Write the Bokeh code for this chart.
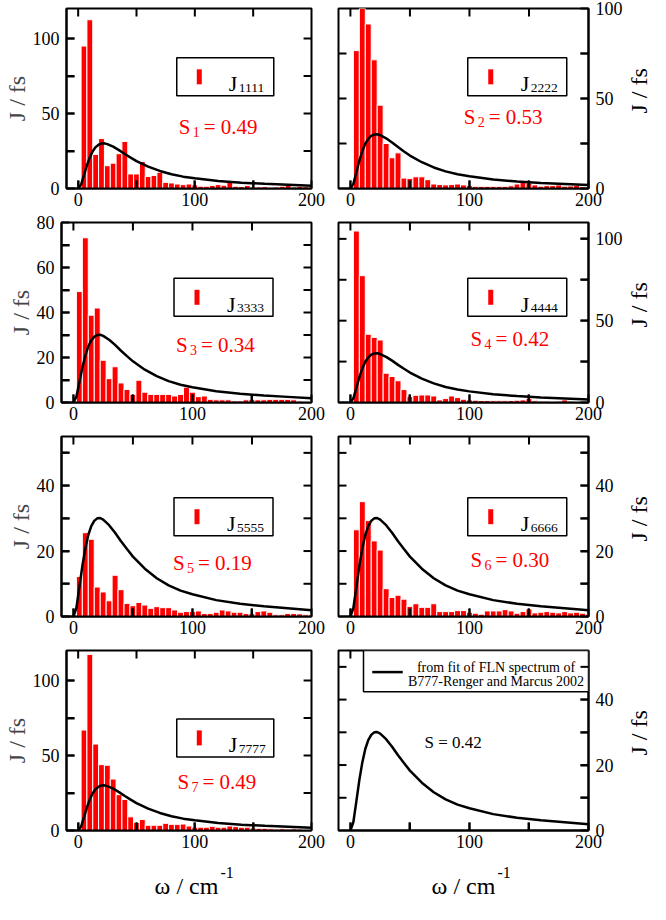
import math
from bokeh.plotting import figure
from bokeh.layouts import column, row
from bokeh.models import Range1d, FixedTicker, BoxAnnotation, Label
from bokeh.embed import file_html
from bokeh.resources import INLINE

# ---------------- data ----------------
omega_bins = [5, 10, 15, 20, 25, 30, 35, 40, 45, 50,
              55, 60, 65, 70, 75, 80, 85, 90, 95, 100,
              105, 110, 115, 120, 125, 130, 135, 140, 145, 150,
              155, 160, 165, 170, 175, 180, 185, 190, 195, 200]

J1111 = [95.0, 112.5, 22.7, 33.3, 15.2, 16.9, 23.2, 31.4, 9.7, 9.7,
         18.0, 8.0, 8.7, 10.8, 4.1, 3.7, 3.0, 2.6, 3.0, 2.4,
         1.5, 1.5, 2.0, 2.6, 2.2, 4.5, 1.5, 1.3, 2.0, 1.0,
         1.0, 1.2, 0.8, 1.0, 1.5, 2.0, 1.0, 1.5, 1.2, 1.0]
J2222 = [76.6, 101.0, 91.4, 71.5, 46.3, 25.0, 17.1, 19.8, 5.8, 5.6,
         6.5, 6.5, 4.9, 2.5, 2.2, 2.0, 2.2, 2.5, 2.0, 1.6,
         1.2, 1.2, 1.2, 1.2, 1.2, 1.2, 1.5, 2.5, 3.4, 3.1,
         2.0, 1.3, 1.6, 1.6, 2.0, 1.3, 1.4, 1.8, 0.9, 0.9]
J3333 = [49.3, 73.2, 38.8, 42.0, 18.8, 10.6, 15.9, 8.7, 5.8, 3.6,
         9.9, 4.6, 3.6, 3.6, 3.6, 3.6, 2.9, 3.6, 6.8, 4.6,
         2.6, 2.9, 1.4, 1.2, 1.2, 1.2, 0.7, 0.7, 1.2, 1.4,
         1.2, 1.2, 1.4, 1.4, 1.4, 1.4, 1.2, 0.6, 0.4, 0.4]
J4444 = [104.8, 77.5, 41.7, 39.8, 38.2, 17.9, 15.9, 13.3, 7.9, 3.6,
         4.4, 4.6, 4.6, 4.0, 1.6, 2.4, 4.0, 3.0, 2.0, 1.6,
         1.4, 1.2, 1.2, 1.0, 1.0, 1.0, 1.2, 1.4, 1.6, 2.4,
         1.0, 0.8, 0.8, 0.6, 0.8, 1.6, 0.8, 0.6, 0.5, 0.5]
J5555 = [12.2, 25.6, 23.6, 9.0, 7.5, 4.8, 12.6, 8.2, 4.0, 3.3,
         4.3, 3.5, 2.5, 3.0, 2.7, 2.7, 2.0, 1.3, 1.5, 1.5,
         1.7, 0.9, 0.9, 1.3, 2.0, 1.7, 1.3, 1.3, 0.9, 0.9,
         1.5, 1.7, 1.3, 0.5, 0.5, 0.9, 0.9, 0.8, 0.5, 0.5]
J6666 = [26.5, 35.1, 29.3, 23.1, 20.3, 8.5, 5.8, 6.5, 5.3, 3.1,
         3.9, 2.8, 2.8, 3.9, 1.5, 1.5, 1.5, 1.8, 1.8, 1.3,
         1.0, 0.7, 1.7, 1.7, 1.7, 2.1, 1.7, 1.0, 1.5, 2.3,
         1.1, 1.3, 1.5, 1.3, 1.1, 1.5, 1.1, 1.3, 1.0, 0.7]
J7777 = [67.0, 117.4, 57.6, 43.9, 43.5, 34.3, 23.9, 20.7, 9.1, 5.4,
         7.4, 3.5, 3.5, 3.5, 4.8, 4.1, 4.1, 4.3, 3.0, 2.2,
         2.2, 2.2, 2.8, 2.2, 2.2, 3.0, 2.6, 2.2, 2.2, 1.7,
         1.5, 1.5, 1.1, 0.9, 1.1, 0.9, 1.1, 0.9, 0.7, 0.7]

# fitted spectral density (Renger & Marcus 2002)
fit_omega = [0, 2.5, 5, 7.5, 10, 12.5, 15, 17.5, 20, 22.5, 25, 30, 35, 40, 45,
             50, 60, 70, 80, 90, 100, 120, 140, 160, 180, 200]
fit_J = [0.0, 2.6, 8.9, 15.4, 20.8, 24.9, 27.6, 29.2, 30.0, 30.1, 29.6, 27.9, 25.6,
         23.0, 20.6, 18.3, 14.6, 11.7, 9.5, 7.9, 6.8, 5.0, 3.9, 3.1, 2.5, 1.9]

site_labels = ["1111", "2222", "3333", "4444", "5555", "6666", "7777"]
s_subs = ["1", "2", "3", "4", "5", "6", "7"]
s_values = ["0.49", "0.53", "0.34", "0.42", "0.19", "0.30", "0.49"]
fit_s_text = "S = 0.42"
fit_legend = ["from fit of FLN spectrum of", "B777-Renger and Marcus 2002"]
y_title = "J / fs"
x_title = "ω / cm"
x_title_sup = "-1"

x_ticks = [0, 100, 200]
x_minor = [50, 150]
y_max = [120, 100, 80, 110, 55, 55, 120, 55]
y_ticks = [[0, 50, 100], [0, 50, 100], [0, 20, 40, 60, 80], [0, 50, 100],
           [0, 20, 40], [0, 20, 40], [0, 50, 100], [0, 20, 40]]
y_minor = [[25, 75], [25, 75], [10, 30, 50, 70], [25, 75],
           [10, 30, 50], [10, 30, 50], [25, 75], [10, 30, 50]]
series = [J1111, J2222, J3333, J4444, J5555, J6666, J7777, None]

# ---------------- layout / style ----------------
FONT = "Liberation Serif"
RED = "#ff0000"
FW, FH = 250, 180
XMIN, XMAX = -10, 200
TICK = 8
TB, BB = 8, 26
LB_L, RB_L = 61, 14          # left-column figure borders
LB_R, RB_R = 13, 38          # right-column figure borders
LABEL_W = 325 - (LB_R + FW + RB_R)   # strip holding the right-hand "J / fs"
ROW_H = TB + FH + BB
XT_H = 44                    # strip holding the bottom x titles
# legend box (left frac, top frac) and S-label (left frac, baseline frac) per panel
box_pos = [(0.45, 0.274), (0.517, 0.274), (0.45, 0.31), (0.517, 0.31),
           (0.45, 0.34), (0.517, 0.34), (0.45, 0.38)]
s_pos = [(0.458, 0.658), (0.501, 0.60), (0.458, 0.683), (0.528, 0.645),
         (0.446, 0.70), (0.528, 0.685), (0.453, 0.73)]
fit_box_left = 0.10


def style_axis(ax, ticks, minor, standoff):
    ax.ticker = FixedTicker(ticks=ticks, minor_ticks=minor)
    ax.major_tick_in = TICK
    ax.major_tick_out = 0
    ax.minor_tick_in = TICK
    ax.minor_tick_out = 0
    ax.major_tick_line_width = 2
    ax.minor_tick_line_width = 2
    ax.major_tick_line_color = "black"
    ax.minor_tick_line_color = "black"
    ax.axis_line_width = 2
    ax.axis_line_color = "black"
    ax.major_label_text_font = FONT
    ax.major_label_text_color = "black"
    ax.major_label_text_font_size = "18px"
    ax.major_label_standoff = standoff


def add_ticks(p, ymax, yt, ym, top_limit):
    # inward tick marks on all four frame edges, placed at the tick values
    tx = TICK * (XMAX - XMIN) / FW
    ty = TICK * ymax / FH
    xs = [v for v in x_ticks + x_minor if XMIN < v < XMAX]
    xs_top = [v for v in xs if v < top_limit]
    ys = [v for v in yt + ym if 0 < v < ymax]
    kw = dict(width_units="screen", height_units="screen",
              fill_color="black", line_color=None)
    r1 = p.rect(x=xs + xs_top,
                y=[ty / 2] * len(xs) + [ymax - ty / 2] * len(xs_top),
                width=2, height=TICK, **kw)
    r2 = p.rect(x=[XMIN + tx / 2] * len(ys) + [XMAX - tx / 2] * len(ys),
                y=ys + ys, width=TICK, height=2, **kw)
    r1.level = "overlay"
    r2.level = "overlay"


def text_fig(width, height):
    f = figure(width=width, height=height, x_range=Range1d(0, width),
               y_range=Range1d(0, height), output_backend="svg",
               toolbar_location=None, x_axis_location=None, y_axis_location=None,
               min_border=0, min_border_left=0, min_border_right=0,
               min_border_top=0, min_border_bottom=0,
               background_fill_color=None, border_fill_color="white")
    f.outline_line_color = None
    f.grid.visible = False
    return f


def build(i):
    side = "left" if i % 2 == 0 else "right"
    lb = LB_L if side == "left" else LB_R
    rb = RB_L if side == "left" else RB_R
    ymax = y_max[i]
    p = figure(width=lb + FW + rb, height=ROW_H,
               x_range=Range1d(XMIN, XMAX), y_range=Range1d(0, ymax),
               output_backend="svg", toolbar_location=None, y_axis_location=side,
               min_border_left=lb, min_border_right=rb,
               min_border_top=TB, min_border_bottom=BB,
               background_fill_color=None, border_fill_color="white")
    p.grid.visible = False
    p.outline_line_color = "black"
    p.outline_line_width = 2

    xb = p.below[0]
    ya = p.left[0] if side == "left" else p.right[0]
    style_axis(xb, x_ticks, x_minor, 4)
    style_axis(ya, y_ticks[i], y_minor[i], 7)
    if side == "left":
        ya.axis_label = y_title
        ya.axis_label_text_font = FONT
        ya.axis_label_text_font_size = "24px"
        ya.axis_label_text_font_style = "normal"
        ya.axis_label_standoff = 0

    dx = (XMAX - XMIN) / FW
    dy = ymax / FH

    def X(px):
        return XMIN + px * dx

    def Y(py):
        return ymax - py * dy

    if series[i] is not None:
        p.vbar(x=omega_bins, top=series[i], width=5, bottom=0,
               fill_color=RED, line_color="white", line_width=1)
    p.line(fit_omega, fit_J, line_color="black", line_width=2.5)
    add_ticks(p, ymax, y_ticks[i], y_minor[i],
              XMAX if series[i] is not None else X(fit_box_left * FW))

    if series[i] is not None:
        bl, bt = box_pos[i]
        left_px = bl * FW
        top_px = bt * FH
        box = BoxAnnotation(left=X(left_px), right=X(left_px + 99),
                            top=Y(top_px), bottom=Y(top_px + 38),
                            fill_color="white", fill_alpha=1.0,
                            line_color="black", line_width=1.5, line_alpha=1.0)
        p.add_layout(box)
        cy = Y(top_px + 19)
        sym = p.rect(x=[X(left_px + 23)], y=[cy], width=5, height=15,
                     width_units="screen", height_units="screen",
                     fill_color=RED, line_color=None)
        sym.level = "overlay"
        jx = X(left_px + 53)
        p.add_layout(Label(x=jx, y=cy, y_offset=-7, text="J", text_font=FONT,
                           text_font_size="22px", text_color="black",
                           text_baseline="alphabetic", level="overlay"))
        p.add_layout(Label(x=jx, y=cy, x_offset=10, y_offset=-11, text=site_labels[i],
                           text_font=FONT, text_font_size="13.5px", text_color="black",
                           text_baseline="alphabetic", level="overlay"))
        sxf, syf = s_pos[i]
        sx = X(sxf * FW)
        sy = Y(syf * FH)
        p.add_layout(Label(x=sx, y=sy, text="S", text_font=FONT, text_font_size="21px",
                           text_color=RED, text_baseline="alphabetic"))
        p.add_layout(Label(x=sx, y=sy, x_offset=14, y_offset=-5, text=s_subs[i],
                           text_font=FONT, text_font_size="14px", text_color=RED,
                           text_baseline="alphabetic"))
        p.add_layout(Label(x=sx, y=sy, x_offset=25, text="= " + s_values[i],
                           text_font=FONT, text_font_size="21px", text_color=RED,
                           text_baseline="alphabetic"))
    else:
        left_px = fit_box_left * FW
        box = BoxAnnotation(left=X(left_px), right=XMAX, top=ymax, bottom=Y(0.229 * FH),
                            fill_color="white", fill_alpha=1.0,
                            line_color="black", line_width=1.5, line_alpha=1.0)
        p.add_layout(box)
        ly = Y(0.12 * FH)
        seg = p.segment(x0=[X(0.135 * FW)], y0=[ly], x1=[X(0.257 * FW)], y1=[ly],
                        line_color="black", line_width=2.5)
        seg.level = "overlay"
        tx = X(0.63 * FW)
        p.add_layout(Label(x=tx, y=Y(0.093 * FH), text=fit_legend[0], text_font=FONT,
                           text_font_size="14px", text_color="black",
                           text_align="center", text_baseline="alphabetic", level="overlay"))
        p.add_layout(Label(x=tx, y=Y(0.174 * FH), text=fit_legend[1], text_font=FONT,
                           text_font_size="14px", text_color="black",
                           text_align="center", text_baseline="alphabetic", level="overlay"))
        p.add_layout(Label(x=X(0.344 * FW), y=Y(0.51 * FH), text=fit_s_text, text_font=FONT,
                           text_font_size="17px", text_color="black",
                           text_baseline="alphabetic"))
    return p


def right_title():
    f = text_fig(LABEL_W, ROW_H)
    f.add_layout(Label(x=LABEL_W / 2, y=ROW_H - (TB + FH / 2), angle=math.pi / 2,
                       text=y_title, text_font=FONT, text_font_size="24px",
                       text_color="black", text_align="center", text_baseline="middle"))
    return f


def x_title_fig(frame_left):
    f = text_fig(325, XT_H)
    cx = frame_left + FW / 2
    f.add_layout(Label(x=cx, y=15, text=x_title, text_font=FONT, text_font_size="24px",
                       text_color="black", text_align="center",
                       text_baseline="alphabetic"))
    f.add_layout(Label(x=cx, y=15, x_offset=34, y_offset=13, text=x_title_sup,
                       text_font=FONT, text_font_size="16px", text_color="black",
                       text_baseline="alphabetic"))
    return f


plots = [build(i) for i in range(8)]
rows = [row(plots[2 * k], plots[2 * k + 1], right_title()) for k in range(4)]
rows.append(row(x_title_fig(LB_L), x_title_fig(LB_R)))
layout = column(*rows)

open("out.html", "w").write(file_html(layout, INLINE))
